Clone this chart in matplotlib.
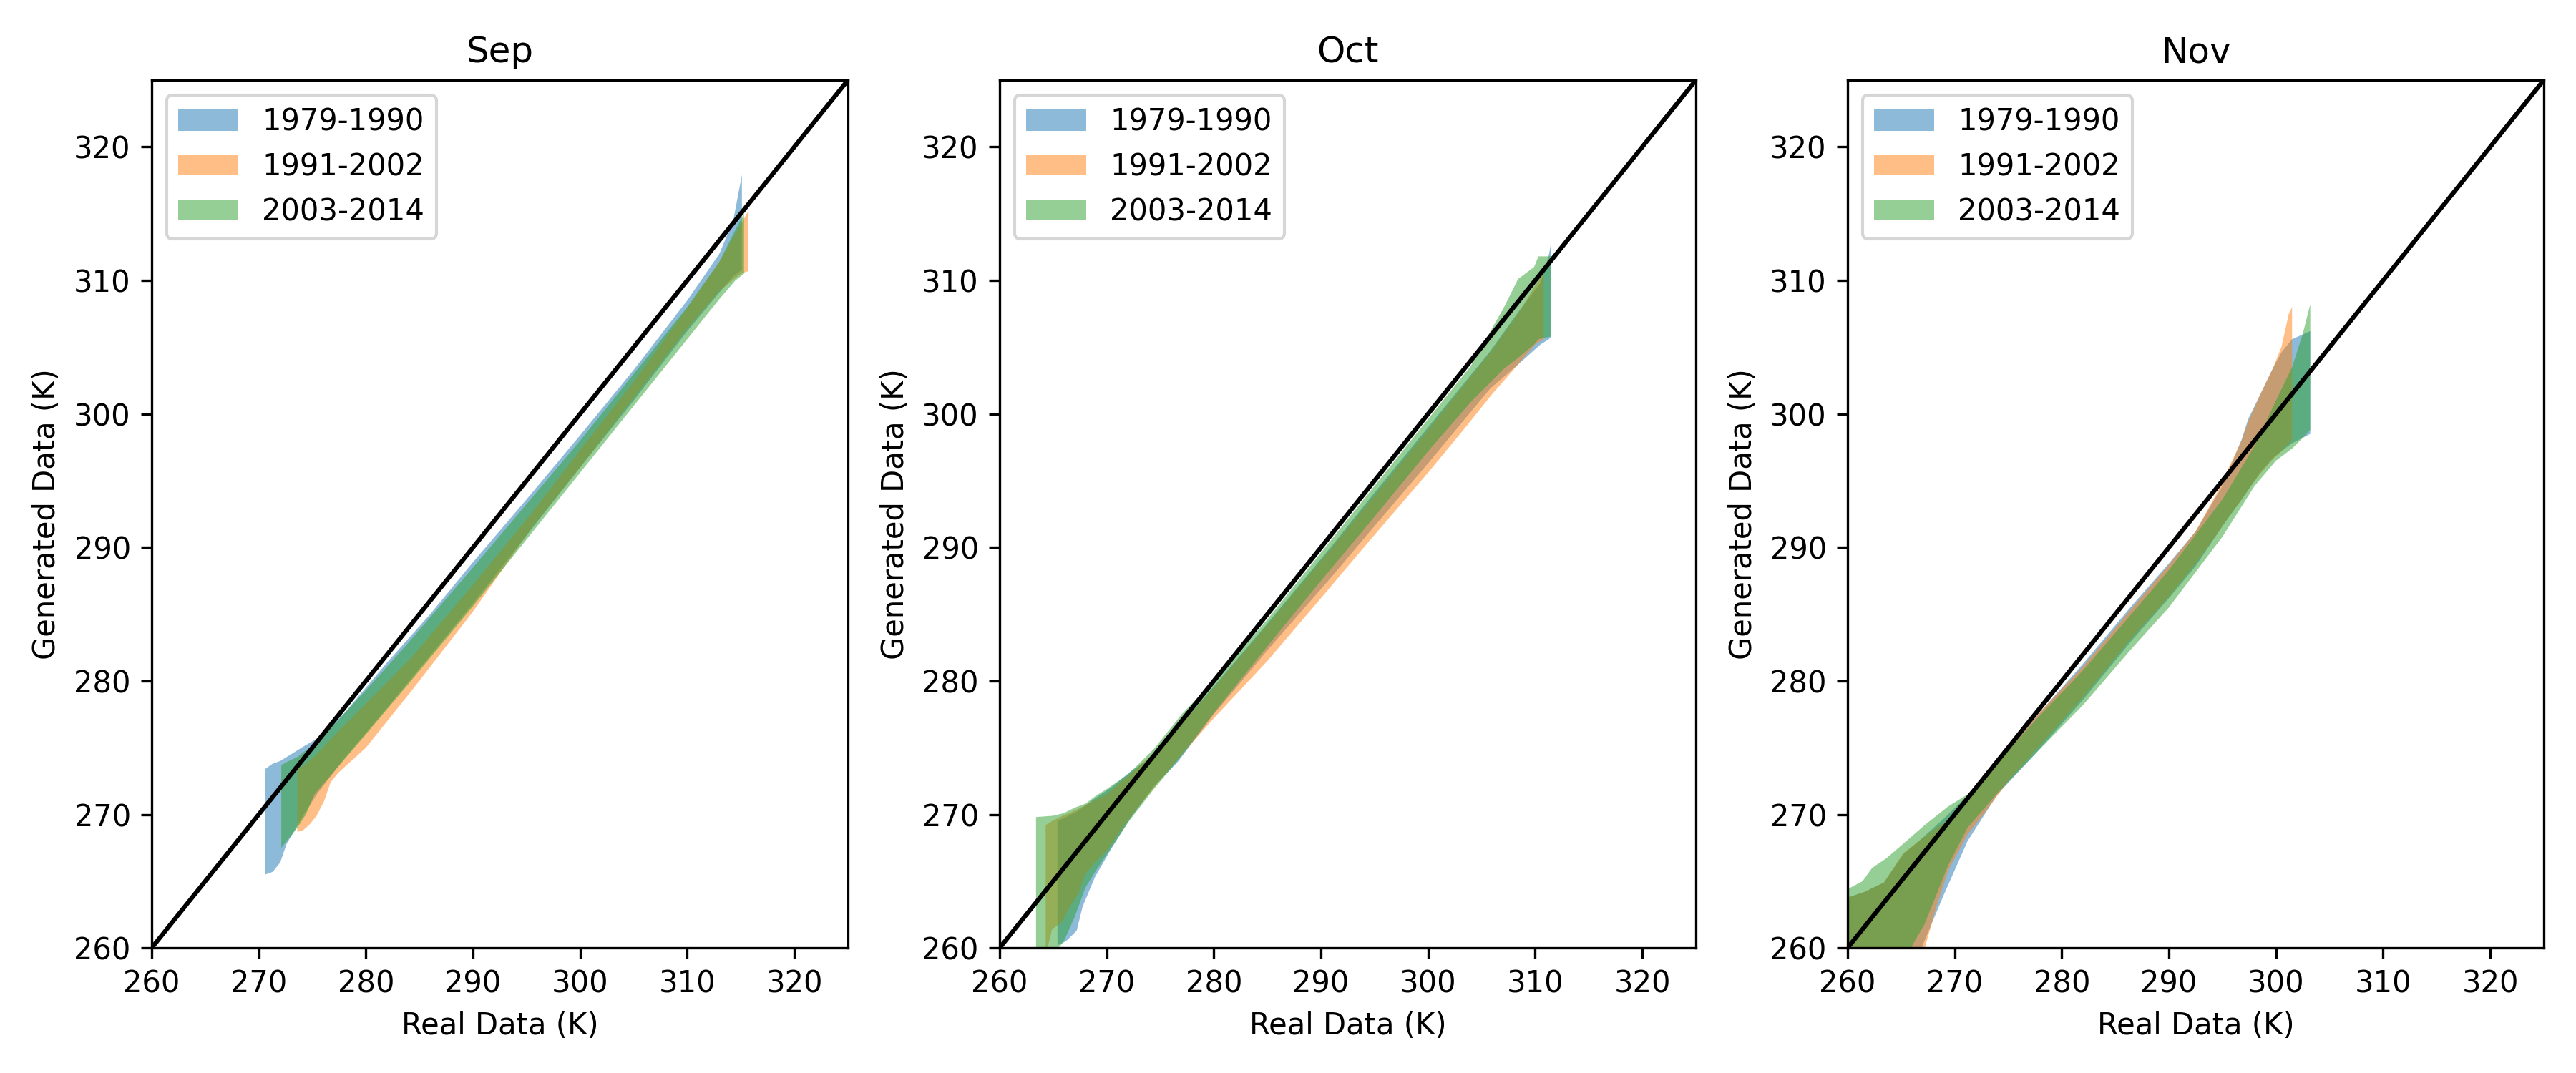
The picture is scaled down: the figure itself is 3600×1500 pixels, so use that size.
import numpy as np
import matplotlib
matplotlib.use('Agg')
import matplotlib.pyplot as plt

months = ['Sep', 'Oct', 'Nov']
periods = ['1979-1990', '1991-2002', '2003-2014']
lims = [260, 325]
ticks = [260, 270, 280, 290, 300, 310, 320]

# --- Sep ---
sep_p1_x = [270.6, 271.3, 272.0, 272.6, 273.2, 274.2, 275.5, 278.0, 282.0, 286.0, 290.0, 295.0, 300.0, 305.0, 310.0, 313.0, 314.3, 315.1]
sep_p1_hi = [273.4, 273.8, 274.0, 274.3, 274.6, 275.1, 275.7, 277.6, 281.4, 285.0, 288.9, 293.6, 298.4, 303.3, 308.5, 312.0, 314.5, 317.9]
sep_p1_lo = [265.5, 265.7, 266.4, 267.8, 268.6, 270.0, 271.6, 274.2, 278.0, 281.9, 285.8, 290.9, 296.0, 301.0, 306.2, 309.1, 310.3, 310.8]

sep_p2_x = [273.6, 274.1, 274.7, 275.4, 276.1, 276.7, 277.4, 280.0, 284.3, 290.0, 295.6, 300.0, 305.0, 310.0, 313.0, 315.0, 315.7]
sep_p2_hi = [273.4, 273.6, 274.0, 274.5, 275.1, 275.6, 276.2, 278.3, 281.8, 287.2, 292.7, 297.3, 302.4, 307.9, 311.4, 314.2, 315.2]
sep_p2_lo = [268.7, 268.8, 269.2, 269.9, 271.0, 272.4, 273.1, 275.0, 279.3, 285.2, 291.6, 296.0, 301.2, 306.4, 309.2, 310.5, 310.7]

sep_p3_x = [272.1, 272.8, 273.6, 274.4, 275.2, 277.0, 280.0, 284.0, 290.0, 296.0, 300.0, 305.0, 310.0, 313.0, 314.5, 315.3]
sep_p3_hi = [273.7, 274.0, 274.3, 274.8, 275.3, 276.7, 279.3, 282.9, 288.5, 294.2, 298.0, 303.0, 308.0, 311.4, 313.8, 315.0]
sep_p3_lo = [267.5, 268.2, 269.0, 270.0, 271.5, 273.2, 276.0, 279.8, 285.6, 291.6, 295.6, 300.6, 305.6, 308.6, 310.0, 310.5]

# --- Oct ---
oct_p1_x = [265.4, 266.2, 267.2, 267.75, 268.9, 270.4, 272.2, 274.4, 276.6, 279.9, 285.0, 291.0, 295.0, 300.0, 305.8, 308.4, 310.5, 311.3, 311.5]
oct_p1_hi = [269.5, 269.8, 270.2, 270.5, 271.2, 272.0, 273.2, 274.4, 276.4, 279.5, 284.3, 290.1, 294.1, 299.0, 304.7, 307.6, 309.8, 312.0, 312.9]
oct_p1_lo = [260.2, 260.5, 261.3, 263.1, 265.3, 267.4, 269.7, 272.1, 273.9, 277.4, 282.3, 287.8, 291.6, 296.3, 301.9, 303.7, 305.2, 305.6, 305.8]

oct_p2_x = [264.3, 264.9, 265.9, 266.5, 267.3, 268.0, 269.0, 270.0, 272.0, 274.4, 277.0, 280.0, 285.0, 290.0, 294.0, 300.0, 303.5, 306.0, 308.4, 310.0, 310.8]
oct_p2_hi = [269.2, 269.5, 269.9, 270.1, 270.4, 270.7, 271.1, 271.5, 272.9, 274.6, 276.8, 279.5, 284.2, 289.0, 292.9, 298.8, 302.3, 304.8, 307.5, 309.6, 310.6]
oct_p2_lo = [259.5, 261.4, 262.0, 263.0, 264.0, 265.5, 266.5, 267.3, 269.6, 272.0, 274.5, 277.2, 281.5, 286.2, 290.0, 295.6, 299.0, 301.5, 303.7, 305.2, 305.6]

oct_p3_x = [263.4, 265.0, 266.0, 267.0, 268.0, 269.0, 270.0, 272.0, 274.4, 277.0, 280.0, 285.0, 290.0, 295.0, 300.0, 304.0, 307.1, 308.4, 309.9, 310.3, 311.5]
oct_p3_hi = [269.8, 269.9, 270.1, 270.5, 270.8, 271.4, 271.9, 273.0, 274.9, 277.5, 280.0, 284.6, 289.6, 294.6, 299.6, 303.6, 308.0, 310.1, 311.0, 311.8, 311.8]
oct_p3_lo = [258.5, 259.5, 260.5, 262.3, 264.5, 265.8, 267.0, 269.4, 271.9, 274.4, 277.6, 282.6, 287.5, 292.3, 297.2, 300.9, 303.4, 304.2, 305.2, 305.6, 305.8]

# --- Nov ---
nov_p1_x = [259.0, 261.6, 263.4, 265.2, 266.8, 269.0, 271.2, 274.0, 277.6, 282.0, 286.5, 290.0, 292.5, 295.0, 296.8, 297.4, 298.5, 299.7, 300.5, 301.5, 303.2]
nov_p1_hi = [263.5, 264.2, 264.9, 267.0, 268.1, 269.7, 271.4, 274.0, 277.3, 281.3, 285.6, 288.8, 291.2, 294.6, 298.1, 299.6, 301.4, 303.4, 304.6, 305.6, 306.2]
nov_p1_lo = [256.0, 256.5, 257.0, 258.0, 259.8, 264.0, 268.0, 271.5, 274.6, 278.6, 283.0, 286.2, 288.6, 291.6, 293.6, 294.3, 295.6, 296.7, 297.2, 297.8, 298.5]

nov_p2_x = [259.0, 261.6, 263.4, 265.2, 266.8, 268.3, 269.4, 271.2, 272.3, 275.0, 278.0, 282.0, 286.5, 290.0, 292.5, 294.5, 295.6, 296.8, 297.4, 298.5, 299.7, 300.5, 301.2, 301.5]
nov_p2_hi = [263.5, 264.2, 264.9, 267.1, 268.1, 269.0, 269.6, 271.3, 272.3, 274.9, 277.7, 281.1, 285.4, 288.7, 291.2, 294.1, 296.0, 298.0, 299.4, 301.4, 303.4, 305.0, 307.5, 308.0]
nov_p2_lo = [256.0, 256.5, 257.0, 258.0, 258.8, 263.1, 265.8, 268.5, 269.6, 272.5, 275.2, 278.8, 283.2, 286.3, 288.8, 291.0, 292.3, 293.6, 294.3, 295.5, 296.6, 297.2, 297.8, 298.0]

nov_p3_x = [259.0, 260.0, 261.4, 262.3, 263.6, 265.2, 267.2, 269.4, 271.2, 274.0, 277.6, 282.0, 286.5, 290.0, 295.0, 298.0, 300.0, 301.5, 302.5, 303.2]
nov_p3_hi = [264.4, 264.4, 265.0, 266.0, 266.7, 267.8, 269.2, 270.6, 271.5, 273.9, 277.1, 280.8, 285.0, 288.3, 293.6, 297.6, 301.0, 303.5, 306.0, 308.2]
nov_p3_lo = [256.0, 256.5, 257.0, 257.5, 258.0, 259.0, 261.8, 266.2, 269.0, 271.6, 274.6, 278.2, 282.4, 285.5, 290.8, 294.6, 296.5, 297.4, 298.2, 298.8]

bands = {
    'Sep': [(sep_p1_x, sep_p1_lo, sep_p1_hi), (sep_p2_x, sep_p2_lo, sep_p2_hi), (sep_p3_x, sep_p3_lo, sep_p3_hi)],
    'Oct': [(oct_p1_x, oct_p1_lo, oct_p1_hi), (oct_p2_x, oct_p2_lo, oct_p2_hi), (oct_p3_x, oct_p3_lo, oct_p3_hi)],
    'Nov': [(nov_p1_x, nov_p1_lo, nov_p1_hi), (nov_p2_x, nov_p2_lo, nov_p2_hi), (nov_p3_x, nov_p3_lo, nov_p3_hi)],
}

fig, axes = plt.subplots(1, 3, figsize=(12, 5))  # (width, height)

for ax, month in zip(axes, months):
    for (x, lo, hi), label in zip(bands[month], periods):
        ax.fill_between(x, lo, hi, alpha=0.5, label=label, linewidth=0)
    ax.plot(lims, lims, 'k-')
    ax.set_xlim(lims)
    ax.set_ylim(lims)
    ax.set_xticks(ticks)
    ax.set_yticks(ticks)
    ax.set_xlabel('Real Data (K)')
    ax.set_ylabel('Generated Data (K)')
    ax.set_title(month)
    ax.legend(loc='upper left')

plt.tight_layout()
plt.savefig('out.png', dpi=300)
